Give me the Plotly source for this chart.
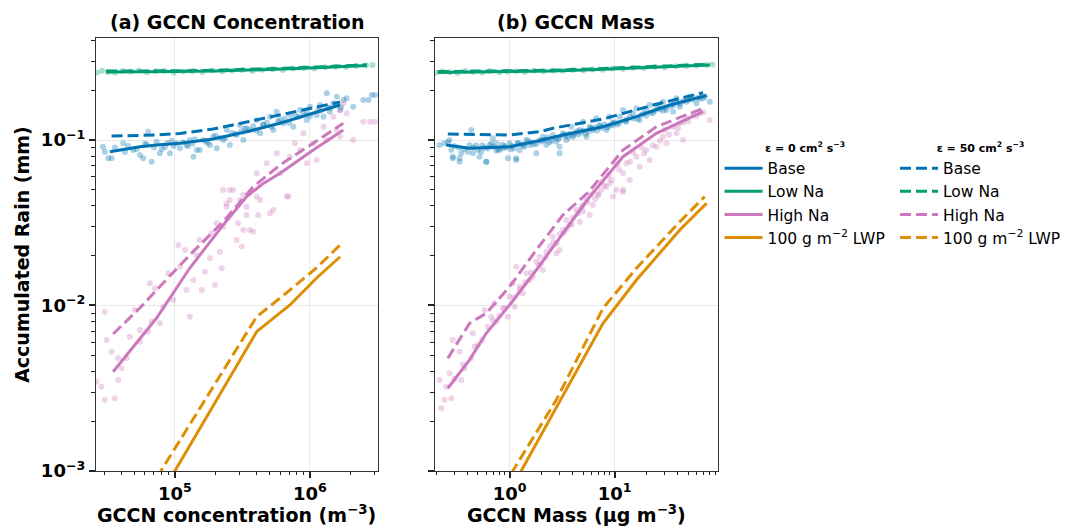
import plotly.graph_objects as go

# ---------------- data: panel (a) GCCN concentration (m^-3) ----------------
conc_low_line = [3.1e4, 6.0e4, 1.0e5, 2.0e5, 4.0e5, 8.0e5, 1.5e6, 2.64e6]
rain_low_solid_a = [0.258, 0.258, 0.259, 0.261, 0.265, 0.270, 0.276, 0.282]
rain_low_dash_a = [0.261, 0.261, 0.262, 0.264, 0.268, 0.273, 0.279, 0.285]

conc_base_solid = [3.3e4, 5.51e4, 7.32e4, 1.09e5, 1.92e5, 3.4e5, 6.0e5, 1.058e6, 1.668e6]
rain_base_solid_a = [0.085, 0.0911, 0.0933, 0.0955, 0.1014, 0.1122, 0.1262, 0.145, 0.1627]
conc_base_dash = [3.4e4, 7.32e4, 1.09e5, 1.92e5, 3.4e5, 6.0e5, 1.058e6, 1.668e6]
rain_base_dash_a = [0.1057, 0.1072, 0.1095, 0.1165, 0.1284, 0.1416, 0.1554, 0.1697]

conc_high_solid = [3.49e4, 7.32e4, 1.29e5, 2.31e5, 3.4e5, 4.51e5, 6.0e5, 1.058e6, 1.765e6]
rain_high_solid_a = [0.00398, 0.0084, 0.01684, 0.0311, 0.0455, 0.0547, 0.0629, 0.087, 0.1149]
conc_high_dash = [3.49e4, 5.51e4, 7.32e4, 1.29e5, 2.28e5, 3.8e5, 6.0e5, 1.058e6, 1.765e6]
rain_high_dash_a = [0.00673, 0.00966, 0.0124, 0.0202, 0.0321, 0.0522, 0.0706, 0.0955, 0.1262]

conc_lwp_solid = [6.53e4, 4.03e5, 7.11e5, 1.12e6, 1.67e6]
rain_lwp_solid_a = [5.53e-4, 6.95e-3, 1.007e-2, 1.466e-2, 1.97e-2]
conc_lwp_dash = [5.51e4, 4.03e5, 7.11e5, 1.12e6, 1.67e6]
rain_lwp_dash_a = [6.24e-4, 8.55e-3, 1.24e-2, 1.69e-2, 2.32e-2]

# scatter (individual simulations), panel (a)
low_pts_conc = [26500, 29000, 32000, 36000, 41000, 47000, 54000, 62000, 72000, 84000,
                98000, 115000, 135000, 160000, 190000, 225000, 265000, 315000, 375000, 445000,
                530000, 630000, 750000, 900000, 1.08e6, 1.3e6, 1.55e6, 1.85e6, 2.2e6, 2.6e6, 2.9e6]
low_pts_rain_a = [0.256, 0.262, 0.258, 0.255, 0.261, 0.259, 0.263, 0.257, 0.26, 0.262,
                  0.256, 0.259, 0.261, 0.258, 0.263, 0.26, 0.262, 0.265, 0.261, 0.266,
                  0.268, 0.265, 0.27, 0.272, 0.27, 0.275, 0.277, 0.276, 0.28, 0.282, 0.284]

base_pts_conc = [29400, 30300, 32100, 34000, 41400, 49100, 55100, 58200, 67300, 63400,
                 73200, 77400, 91800, 103000, 109000, 122000, 129000, 137000, 145000, 162000,
                 182000, 192000, 204000, 228000, 242000, 255000, 286000, 303000, 321000, 359000,
                 403000, 427000, 451000, 506000, 535000, 566000, 634000, 711000, 752000, 843000,
                 944000, 1.0e6, 1.12e6, 1.19e6, 1.26e6, 1.33e6, 1.41e6, 1.58e6, 1.67e6, 1.77e6,
                 1.87e6, 2.09e6, 2.48e6, 2.71e6, 3.03e6, 2.86e6, 42700, 84300, 153000, 339000,
                 600000, 891000, 1.49e6,
                 36000, 45000, 52000, 62000, 70000, 88000, 98000, 115000, 135000, 170000,
                 215000, 265000, 310000, 380000, 480000, 650000, 780000, 950000, 1.15e6, 1.35e6, 1.6e6,
                 60000, 80000, 95000, 125000, 140000, 175000, 200000, 235000, 280000, 330000,
                 400000, 450000, 520000, 580000, 700000, 820000, 1.0e6, 1.2e6, 1.4e6, 1.7e6]
base_pts_rain_a = [0.0911, 0.0850, 0.0775, 0.0775, 0.0955, 0.0870, 0.0811, 0.0775, 0.0739, 0.1122,
                   0.0977, 0.0831, 0.0831, 0.0955, 0.0891, 0.0933, 0.100, 0.0793, 0.0870, 0.100,
                   0.0933, 0.1047, 0.0891, 0.100, 0.1149, 0.0933, 0.1072, 0.1232, 0.100, 0.1149,
                   0.132, 0.1098, 0.1232, 0.1383, 0.1149, 0.1483, 0.1262, 0.1416, 0.1203, 0.1518,
                   0.132, 0.159, 0.1416, 0.1627, 0.1383, 0.1915, 0.1554, 0.1826, 0.1518, 0.1744,
                   0.1786, 0.159, 0.1744, 0.1744, 0.187, 0.187, 0.0846, 0.0908, 0.087, 0.1177,
                   0.132, 0.145, 0.1666,
                   0.09, 0.092, 0.088, 0.094, 0.09, 0.096, 0.092, 0.097, 0.095, 0.098,
                   0.103, 0.11, 0.113, 0.121, 0.127, 0.135, 0.14, 0.147, 0.152, 0.158, 0.165,
                   0.095, 0.088, 0.099, 0.092, 0.101, 0.096, 0.106, 0.103, 0.109, 0.117,
                   0.114, 0.124, 0.12, 0.13, 0.127, 0.138, 0.139, 0.15, 0.148, 0.158]

high_pts_conc = [26300, 28600, 30300, 35900, 34000, 31200, 30300, 38000, 38000, 40300,
                 43900, 46400, 50500, 55100, 55100, 63400, 67200, 65300, 71100, 77400,
                 81900, 89200, 97100, 106000, 109000, 119000, 122000, 129000, 137000, 145000,
                 153000, 158000, 167000, 182000, 187000, 198000, 215000, 222000, 228000, 241000,
                 255000, 286000, 294000, 312000, 321000, 339000, 359000, 380000, 414000, 506000,
                 535000, 692000, 270000, 403000, 321000, 204000, 228000, 255000, 241000, 303000,
                 339000, 403000, 427000, 478000, 567000, 600000, 673000, 711000, 774000, 843000,
                 893000, 946000, 1.06e6, 1.12e6, 1.26e6, 1.33e6, 1.49e6, 1.58e6, 1.67e6, 1.77e6,
                 1.87e6, 2.09e6, 2.48e6, 2.78e6, 3.03e6, 1.67e6]
high_pts_rain_a = [0.00346, 0.00323, 0.00269, 0.00275, 0.00526, 0.00619, 0.00918, 0.0048, 0.00355, 0.00417,
                   0.0048, 0.00648, 0.0094, 0.00604, 0.00711, 0.00695, 0.00798, 0.01362, 0.0127, 0.0078,
                   0.00983, 0.01565, 0.0108, 0.0232, 0.01716, 0.02164, 0.0124, 0.00856, 0.01426, 0.0202,
                   0.0249, 0.0124, 0.016, 0.0193, 0.0273, 0.0133, 0.0211, 0.0168, 0.0299, 0.0395,
                   0.0434, 0.0249, 0.0314, 0.0227, 0.0286, 0.0352, 0.0286, 0.0279, 0.0352, 0.0361,
                   0.0378, 0.0455, 0.0499, 0.0455, 0.0465, 0.0314, 0.0499, 0.0499, 0.0414, 0.0434,
                   0.0395, 0.0629, 0.0434, 0.0723, 0.0831, 0.0629, 0.0455, 0.0793, 0.0955, 0.087,
                   0.1098, 0.0723, 0.0955, 0.0757, 0.1203, 0.100, 0.1383, 0.1149, 0.1518, 0.1666,
                   0.145, 0.100, 0.129, 0.129, 0.129, 0.1047]

# ---------------- data: panel (b) GCCN mass (ug m^-3) ----------------
mass_low_line = [0.2075, 0.4, 1.0, 2.5, 6.0, 15.0, 35.0, 80.3]
rain_low_solid_b = [0.256, 0.257, 0.258, 0.261, 0.266, 0.272, 0.278, 0.284]
rain_low_dash_b = [0.259, 0.260, 0.261, 0.264, 0.269, 0.275, 0.281, 0.287]

mass_base_solid = [0.2495, 0.416, 1.0, 1.848, 3.218, 7.74, 16.1, 33.4, 74.7]
rain_base_solid_b = [0.0933, 0.0891, 0.0911, 0.0986, 0.1072, 0.1203, 0.1383, 0.1627, 0.1857]
mass_base_dash = [0.2585, 1.0, 1.931, 2.585, 7.74, 10.38, 23.2, 69.3]
rain_base_dash_b = [0.1087, 0.1072, 0.1122, 0.1177, 0.1341, 0.1408, 0.1627, 0.1931]

mass_high_line = [0.2585, 0.416, 0.60, 1.0, 1.796, 3.218, 5.655, 12.0, 24.9, 69.3]
rain_high_solid_b = [0.00316, 0.00469, 0.00679, 0.01007, 0.01638, 0.0273, 0.0446, 0.0793, 0.1098, 0.1483]
rain_high_dash_b = [0.0048, 0.0078, 0.00897, 0.01299, 0.02164, 0.0352, 0.0485, 0.087, 0.1203, 0.1554]

mass_lwp_solid = [0.896, 2.585, 7.74, 16.1, 41.6, 74.7]
rain_lwp_solid_b = [6.59e-4, 2.21e-3, 7.81e-3, 1.426e-2, 2.86e-2, 4.14e-2]
mass_lwp_dash = [0.72, 2.785, 7.74, 16.1, 41.6, 71.9]
rain_lwp_dash_b = [6.61e-4, 2.69e-3, 9.62e-3, 1.678e-2, 3.21e-2, 4.55e-2]

low_pts_mass = [0.2, 0.23, 0.27, 0.32, 0.38, 0.45, 0.55, 0.65, 0.8, 0.95,
                1.15, 1.4, 1.7, 2.1, 2.6, 3.2, 4.0, 5.0, 6.2, 7.7,
                9.5, 12, 15, 19, 24, 30, 38, 48, 60, 75, 85]
low_pts_rain_b = [0.255, 0.259, 0.257, 0.254, 0.26, 0.258, 0.256, 0.261, 0.257, 0.259,
                  0.26, 0.258, 0.262, 0.26, 0.263, 0.262, 0.265, 0.264, 0.267, 0.266,
                  0.27, 0.269, 0.273, 0.272, 0.276, 0.275, 0.279, 0.28, 0.282, 0.284, 0.286]

base_pts_mass = [0.2154, 0.2404, 0.2683, 0.2785, 0.2884, 0.3342, 0.3467, 0.4159, 0.4317, 0.4472,
                 0.5179, 0.5375, 0.5999, 0.6449, 0.6934, 0.7468, 0.8031, 0.8634, 0.9634, 1.0,
                 1.158, 1.2, 1.245, 1.442, 1.55, 1.796, 1.931, 2.075, 2.236, 2.585,
                 2.785, 2.993, 3.218, 3.467, 3.869, 4.008, 4.642, 4.99, 5.378, 5.781,
                 6.214, 6.695, 7.197, 8.337, 8.964, 9.634, 11.16, 12.0, 12.93, 14.94,
                 16.1, 17.3, 20.04, 21.54, 23.16, 26.83, 28.84, 31.07, 35.92, 38.69,
                 41.59, 48.18, 51.81, 59.99, 69.34, 80.32, 35.92, 0.2884, 0.3342, 0.5999,
                 1.158, 2.993,
                 0.3, 0.37, 0.45, 0.5, 0.55, 0.62, 0.7, 0.78, 0.85, 0.92,
                 1.05, 1.1, 1.3, 1.38, 1.6, 1.7, 2.0, 2.2, 2.4, 2.7,
                 3.0, 3.4, 3.7, 4.2, 4.5, 5.0, 5.6, 6.0, 6.5, 7.5,
                 8.0, 9.0, 10.0, 11.0, 13.0, 15.0, 18.0, 20.0, 24.0, 27.0,
                 30.0, 34.0, 40.0, 45.0, 55.0, 62.0, 72.0,
                 0.26, 0.33, 0.4, 0.48, 0.58, 0.67, 0.75, 0.9, 1.02, 1.2,
                 1.35, 1.5, 1.8, 2.1, 2.3, 2.5, 2.9, 3.3, 3.6, 4.0,
                 4.4, 4.8, 5.3, 5.9, 6.8, 7.2, 8.5, 9.5, 10.5, 12.5,
                 14.0, 16.5, 19.0, 22.0, 25.5, 29.0, 36.0, 42.0, 50.0, 65.0]
base_pts_rain_b = [0.0933, 0.0955, 0.100, 0.087, 0.0793, 0.0775, 0.0831, 0.0933, 0.1149, 0.0831,
                   0.0793, 0.085, 0.0739, 0.0933, 0.1024, 0.0955, 0.087, 0.0891, 0.0775, 0.0955,
                   0.0757, 0.0955, 0.087, 0.100, 0.0933, 0.0831, 0.100, 0.1047, 0.0933, 0.1072,
                   0.0977, 0.0911, 0.1098, 0.100, 0.1203, 0.1047, 0.1149, 0.129, 0.1047, 0.1203,
                   0.1149, 0.1352, 0.1232, 0.1149, 0.1383, 0.1232, 0.1383, 0.1518, 0.129, 0.145,
                   0.1554, 0.132, 0.1518, 0.1627, 0.145, 0.159, 0.1703, 0.1518, 0.1666, 0.1786,
                   0.159, 0.1703, 0.1826, 0.1666, 0.1786, 0.1703, 0.1483, 0.0775, 0.0739, 0.0739,
                   0.0775, 0.0831,
                   0.092, 0.088, 0.09, 0.087, 0.093, 0.089, 0.091, 0.088, 0.094, 0.09,
                   0.092, 0.089, 0.094, 0.091, 0.097, 0.094, 0.098, 0.1, 0.097, 0.103,
                   0.104, 0.106, 0.109, 0.11, 0.108, 0.114, 0.112, 0.117, 0.119, 0.118,
                   0.124, 0.122, 0.128, 0.126, 0.133, 0.135, 0.142, 0.14, 0.15, 0.153,
                   0.157, 0.16, 0.168, 0.172, 0.176, 0.18, 0.183,
                   0.097, 0.09, 0.085, 0.093, 0.09, 0.095, 0.086, 0.092, 0.088, 0.096,
                   0.093, 0.099, 0.095, 0.1, 0.104, 0.099, 0.101, 0.108, 0.104, 0.107,
                   0.113, 0.111, 0.109, 0.118, 0.114, 0.121, 0.119, 0.127, 0.124, 0.13,
                   0.138, 0.134, 0.145, 0.146, 0.156, 0.15, 0.162, 0.165, 0.175, 0.178]

high_pts_mass = [0.2154, 0.2236, 0.2404, 0.2495, 0.2785, 0.2683, 0.2884, 0.3342, 0.3467, 0.3728,
                 0.4317, 0.4472, 0.4642, 0.578, 0.6215, 0.6694, 0.72, 0.7468, 0.8634, 0.9634,
                 1.0, 1.075, 1.116, 1.158, 1.245, 1.339, 1.442, 1.55, 1.667, 1.796,
                 1.931, 2.075, 2.236, 2.404, 2.585, 2.785, 2.993, 3.218, 3.467, 3.728,
                 4.317, 4.642, 4.99, 5.378, 5.781, 6.214, 6.934, 7.468, 12.0, 8.337,
                 9.303, 10.38, 12.0, 12.93, 13.9, 16.1, 17.3, 20.04, 21.54, 24.95,
                 28.84, 31.07, 35.92, 38.69, 41.59, 44.72, 48.18, 55.68, 64.5, 80.32,
                 12.0, 9.634,
                 2.0, 2.6, 3.0, 3.5, 4.0, 4.5, 5.0, 5.5, 6.5, 7.0,
                 8.0, 9.0, 11.0, 14.0, 19.0, 23.0, 27.0, 33.0, 40.0, 50.0, 60.0, 70.0,
                 0.3, 0.36, 0.5, 0.55, 0.7, 0.8, 0.9, 1.1, 1.25, 1.4,
                 1.6, 1.9, 2.2, 2.8, 3.3, 3.9, 4.8, 6.0, 7.5, 8.8,
                 10.5, 15.0, 18.0, 30.0, 45.0]
high_pts_rain_b = [0.00355, 0.00239, 0.00269, 0.00323, 0.00275, 0.00389, 0.00619, 0.00526, 0.00355, 0.00417,
                   0.0048, 0.00679, 0.00564, 0.0094, 0.00744, 0.00856, 0.01031, 0.00798, 0.00962, 0.00856,
                   0.0113, 0.01362, 0.00983, 0.01716, 0.0124, 0.01185, 0.01565, 0.01426, 0.01493, 0.01839,
                   0.01971, 0.01638, 0.0211, 0.0227, 0.02603, 0.02067, 0.02164, 0.0286, 0.03285, 0.03064,
                   0.03776, 0.0321, 0.04047, 0.0434, 0.0352, 0.04047, 0.0465, 0.0499, 0.0487, 0.0522,
                   0.0573, 0.0499, 0.0629, 0.0723, 0.0573, 0.0793, 0.069, 0.087, 0.0757, 0.0911,
                   0.1047, 0.0955, 0.1203, 0.1098, 0.1262, 0.100, 0.1352, 0.1416, 0.145, 0.132,
                   0.0499, 0.0455,
                   0.018, 0.024, 0.027, 0.029, 0.034, 0.036, 0.037, 0.042, 0.044, 0.047,
                   0.053, 0.055, 0.066, 0.074, 0.083, 0.093, 0.099, 0.108, 0.118, 0.13, 0.139, 0.147,
                   0.0036, 0.0044, 0.0058, 0.0062, 0.0081, 0.0087, 0.0096, 0.0112, 0.013, 0.0138,
                   0.0158, 0.0175, 0.0196, 0.0238, 0.0275, 0.031, 0.039, 0.047, 0.056, 0.061,
                   0.071, 0.084, 0.09, 0.115, 0.128]

case_names = ["Base", "Low Na", "High Na", "100 g m<sup>−2</sup> LWP"]

# tick labels
conc_ticks = [1e5, 1e6]
conc_ticktext = ["10<sup>5</sup>", "10<sup>6</sup>"]
mass_ticks = [1, 10]
mass_ticktext = ["10<sup>0</sup>", "10<sup>1</sup>"]
rain_ticks = [1e-3, 1e-2, 1e-1]
rain_ticktext = ["10<sup>−3</sup>", "10<sup>−2</sup>", "10<sup>−1</sup>"]

# ---------------- styling ----------------
BLUE, GREEN, PINK, ORANGE = "#0173B2", "#029E73", "#CC78BC", "#DE8F05"
FONT = "DejaVu Sans"
LW = 3
DASH = "11px,5px"

fig = go.Figure()


def add_pts(x, y, color, xa):
    fig.add_trace(go.Scatter(
        x=x, y=y, mode="markers", xaxis=xa, yaxis="y" if xa == "x" else "y2",
        marker=dict(color=color, size=6, opacity=0.33, line=dict(width=0)),
        showlegend=False, hoverinfo="skip"))


def add_line(x, y, color, dashed, xa, name=None):
    fig.add_trace(go.Scatter(
        x=x, y=y, mode="lines", xaxis=xa, yaxis="y" if xa == "x" else "y2",
        line=dict(color=color, width=LW, dash=DASH if dashed else "solid"),
        name=name, showlegend=name is not None,
        legend="legend2" if dashed else "legend"))


# panel (a) scatter
add_pts(low_pts_conc, low_pts_rain_a, GREEN, "x")
add_pts(base_pts_conc, base_pts_rain_a, BLUE, "x")
add_pts(high_pts_conc, high_pts_rain_a, PINK, "x")
# panel (b) scatter
add_pts(low_pts_mass, low_pts_rain_b, GREEN, "x2")
add_pts(base_pts_mass, base_pts_rain_b, BLUE, "x2")
add_pts(high_pts_mass, high_pts_rain_b, PINK, "x2")

# panel (a) lines (these carry the legend entries)
add_line(conc_base_solid, rain_base_solid_a, BLUE, False, "x", case_names[0])
add_line(conc_base_dash, rain_base_dash_a, BLUE, True, "x", case_names[0])
add_line(conc_low_line, rain_low_solid_a, GREEN, False, "x", case_names[1])
add_line(conc_low_line, rain_low_dash_a, GREEN, True, "x", case_names[1])
add_line(conc_high_solid, rain_high_solid_a, PINK, False, "x", case_names[2])
add_line(conc_high_dash, rain_high_dash_a, PINK, True, "x", case_names[2])
add_line(conc_lwp_solid, rain_lwp_solid_a, ORANGE, False, "x", case_names[3])
add_line(conc_lwp_dash, rain_lwp_dash_a, ORANGE, True, "x", case_names[3])

# panel (b) lines
add_line(mass_base_solid, rain_base_solid_b, BLUE, False, "x2")
add_line(mass_base_dash, rain_base_dash_b, BLUE, True, "x2")
add_line(mass_low_line, rain_low_solid_b, GREEN, False, "x2")
add_line(mass_low_line, rain_low_dash_b, GREEN, True, "x2")
add_line(mass_high_line, rain_high_solid_b, PINK, False, "x2")
add_line(mass_high_line, rain_high_dash_b, PINK, True, "x2")
add_line(mass_lwp_solid, rain_lwp_solid_b, ORANGE, False, "x2")
add_line(mass_lwp_dash, rain_lwp_dash_b, ORANGE, True, "x2")


def minor_vals(e0, e1):
    return [m * 10.0 ** e for e in range(e0, e1) for m in range(2, 10)]


tickfont = dict(family=FONT, size=18, color="black", weight="bold")
common = dict(type="log", tickmode="array", showline=True, linecolor="#333",
              linewidth=1, mirror=True, ticks="outside", ticklen=6, tickwidth=1.5, tickcolor="#222",
              showgrid=True, gridcolor="#e8e8e8", gridwidth=1, zeroline=False,
              tickfont=tickfont, automargin=False)


def minor(e0, e1):
    return dict(tickmode="array", tickvals=minor_vals(e0, e1), ticks="outside", ticklen=3.5,
                tickwidth=1, tickcolor="#222", showgrid=False)


Y0, Y1 = 0.108, 0.928
XA = [0.090, 0.355]
XB = [0.408, 0.674]

fig.update_layout(
    width=1066, height=528, margin=dict(l=0, r=0, t=0, b=0),
    paper_bgcolor="white", plot_bgcolor="white",
    font=dict(family=FONT, color="black"),
    xaxis=dict(domain=XA, range=[4.415, 6.504], anchor="y", tickvals=conc_ticks,
               ticktext=conc_ticktext, minor=minor(4, 7), **common),
    xaxis2=dict(domain=XB, range=[-0.714, 1.981], anchor="y2", tickvals=mass_ticks,
                ticktext=mass_ticktext, minor=minor(-1, 2), **common),
    yaxis=dict(domain=[Y0, Y1], range=[-3, -0.3837], anchor="x", tickvals=rain_ticks,
               ticktext=rain_ticktext, minor=minor(-3, 0), **common),
    yaxis2=dict(domain=[Y0, Y1], range=[-3, -0.3837], anchor="x2", showticklabels=False,
                tickvals=rain_ticks, minor=minor(-3, 0), **common),
    legend=dict(x=0.675, y=0.740, xanchor="left", yanchor="top", bgcolor="rgba(0,0,0,0)",
                font=dict(family=FONT, size=15.5, color="black"), tracegroupgap=0, itemwidth=38,
                title=dict(text="ε = 0 cm<sup>2</sup> s<sup>−3</sup>", side="top center",
                           font=dict(family=FONT, size=11, weight="bold"))),
    legend2=dict(x=0.840, y=0.740, xanchor="left", yanchor="top", bgcolor="rgba(0,0,0,0)",
                 font=dict(family=FONT, size=15.5, color="black"), tracegroupgap=0, itemwidth=38,
                 title=dict(text="ε = 50 cm<sup>2</sup> s<sup>−3</sup>", side="top center",
                            font=dict(family=FONT, size=11, weight="bold"))),
)

title_font = dict(family=FONT, size=19, color="black", weight="bold")
ann = [
    dict(text="(a) GCCN Concentration", x=sum(XA) / 2, y=Y1, yanchor="bottom", yshift=3),
    dict(text="(b) GCCN Mass", x=sum(XB) / 2, y=Y1, yanchor="bottom", yshift=3),
    dict(text="GCCN concentration (m<sup>−3</sup>)", x=sum(XA) / 2, y=0.0, yanchor="bottom", yshift=0),
    dict(text="GCCN Mass (μg m<sup>−3</sup>)", x=sum(XB) / 2, y=0.0, yanchor="bottom", yshift=0),
    dict(text="Accumulated Rain (mm)", x=0.021, y=(Y0 + Y1) / 2, textangle=-90, yanchor="middle"),
]
for a in ann:
    fig.add_annotation(xref="paper", yref="paper", showarrow=False, font=title_font,
                       xanchor="center", **a)

fig.write_html("out.html", config={"displayModeBar": False},
               post_script="document.body.style.margin='0';")
